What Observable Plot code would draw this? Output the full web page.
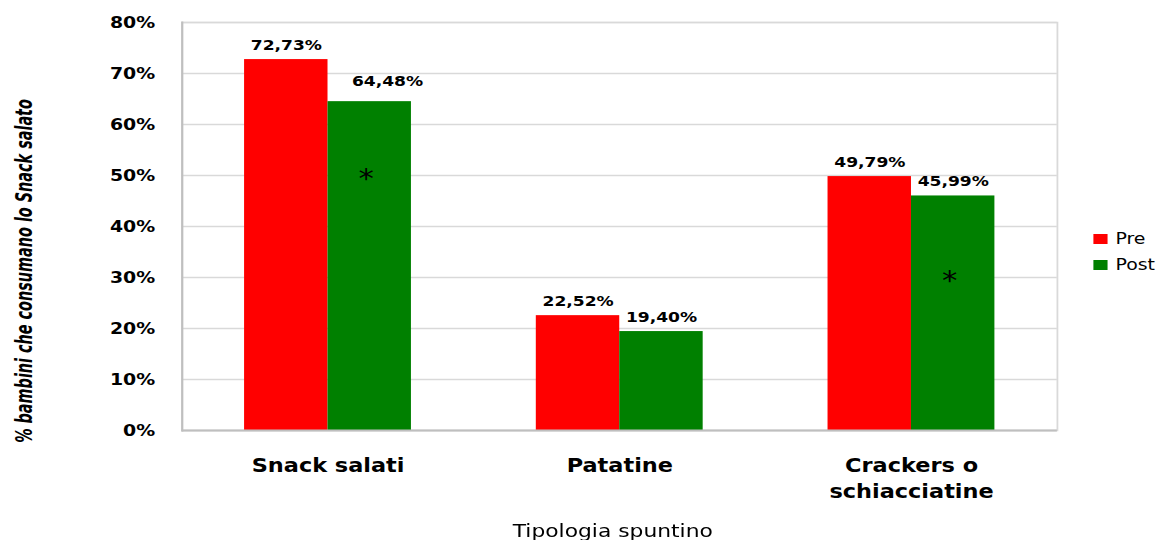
<!DOCTYPE html>
<html>
<head>
<meta charset="utf-8">
<script src="https://cdn.jsdelivr.net/npm/d3@7"></script>
<script src="https://cdn.jsdelivr.net/npm/@observablehq/plot@0.6"></script>
<style>
  html, body { margin: 0; padding: 0; background: #fff; overflow: hidden; }
  #fig {
    position: relative;
    width: 986px;
    height: 540px;
    transform: scaleX(1.1795);
    transform-origin: 0 0;
    font-family: "DejaVu Sans", sans-serif;
  }
  #fig svg { display: block; }
  #ytitle {
    position: absolute;
    left: 19.5px;
    top: 271px;
    white-space: nowrap;
    font-family: "Liberation Sans Narrow", "DejaVu Sans Condensed", sans-serif;
    font-style: italic;
    font-weight: bold;
    font-size: 20px;
    line-height: 20px;
    color: #000;
  }
  .lg-row {
    position: absolute;
    left: 926.7px;
    display: flex;
    align-items: center;
    font-size: 16px;
    line-height: 16px;
    color: #000;
  }
  .lg-sw { width: 12px; height: 10px; margin-right: 7px; }
</style>
</head>
<body>
<div id="fig"></div>
<script>
// Snack consumption before and after the intervention
const categories = ["Snack salati", "Patatine", "Crackers o schiacciatine"];
const categoryLabels = ["Snack salati", "Patatine", "Crackers o\nschiacciatine"];
const seriesNames = ["Pre", "Post"];
const seriesColors = ["#ff0000", "#008000"];
const preValues = [72.73, 22.52, 49.79];
const postValues = [64.48, 19.40, 45.99];
const yTicks = [0, 10, 20, 30, 40, 50, 60, 70, 80];
// significant Pre/Post differences, marked with an asterisk on the Post bar
const markerCategories = ["Snack salati", "Crackers o schiacciatine"];
const markerLevels = [50, 30];

const yTitle = "% bambini che consumano lo Snack salato";
const xTitle = "Tipologia spuntino";

const W = 986, H = 540;
const mL = 154, mR = 90, mT = 22, mB = 110;

const rows = categories.flatMap((c, i) => [
  {category: c, series: "Pre", value: preValues[i]},
  {category: c, series: "Post", value: postValues[i]}
]);
const markers = markerCategories.map((c, i) => ({category: c, level: markerLevels[i]}));

const xOpts = {
  type: "band",
  domain: categories,
  paddingInner: 0.428,
  paddingOuter: 0.214,
  round: false
};
// each category band holds two adjacent bars
const bw = Plot.scale({x: {...xOpts, range: [mL, W - mR]}}).bandwidth;

const fmt = v => v.toFixed(2).replace(".", ",") + "%";
const isNudged = d => d.category === "Snack salati" && d.series === "Post";
const labelStyle = {fontSize: 14.5, fontWeight: "bold", fill: "#000", lineAnchor: "bottom"};

const chart = Plot.plot({
  width: W,
  height: H,
  marginLeft: mL,
  marginRight: mR,
  marginTop: mT,
  marginBottom: mB,
  style: {fontFamily: "DejaVu Sans, sans-serif", background: "#fff", overflow: "visible"},
  x: {...xOpts, axis: null},
  y: {domain: [0, 80], axis: null},
  marks: [
    Plot.gridY(yTicks, {stroke: "#d9d9d9", strokeOpacity: 1, strokeWidth: 1.3}),
    Plot.frame({stroke: "#d9d9d9", strokeWidth: 1.5}),
    Plot.barY(rows.filter(d => d.series === "Pre"), {
      x: "category", y: "value", fill: seriesColors[0], insetRight: bw / 2
    }),
    Plot.barY(rows.filter(d => d.series === "Post"), {
      x: "category", y: "value", fill: seriesColors[1], insetLeft: bw / 2
    }),
    Plot.ruleY([0], {stroke: "#bfbfbf", strokeWidth: 2}),
    Plot.frame({anchor: "left", stroke: "#bfbfbf", strokeWidth: 1.8}),
    Plot.axisY(yTicks, {
      tickSize: 0, tickPadding: 23, tickFormat: d => d + "%",
      fontSize: 16, fontWeight: "bold", fill: "#000", label: null
    }),
    Plot.axisX({
      tickSize: 0, tickPadding: 23.5,
      tickFormat: c => categoryLabels[categories.indexOf(c)],
      fontSize: 19, fontWeight: "bold", fill: "#000", lineHeight: 1.37, label: null
    }),
    // value labels above the bars
    Plot.text(rows.filter(d => d.series === "Pre"), {
      x: "category", y: "value", text: d => fmt(d.value),
      dx: -bw / 4, dy: -10, ...labelStyle
    }),
    Plot.text(rows.filter(d => d.series === "Post" && !isNudged(d)), {
      x: "category", y: "value", text: d => fmt(d.value),
      dx: bw / 4, dy: -10, ...labelStyle
    }),
    Plot.text(rows.filter(isNudged), {
      x: "category", y: "value", text: d => fmt(d.value),
      dx: bw / 4 + 15, dy: -16, ...labelStyle
    }),
    // significance asterisks
    Plot.text(markers, {
      x: "category", y: "level", text: () => "*",
      dx: bw / 4 - 3, dy: 4, lineAnchor: "middle",
      fontSize: 26, fill: "#000"
    }),
    Plot.text([xTitle], {
      frameAnchor: "bottom", dx: -6, dy: 93, lineAnchor: "top",
      fontSize: 18.5, fill: "#000"
    })
  ]
});

const fig = document.getElementById("fig");
fig.appendChild(chart);

// rotated axis title, fitted to the height it spans beside the axis
const yt = document.createElement("div");
yt.id = "ytitle";
yt.textContent = yTitle;
fig.appendChild(yt);
const titleLen = 344;
const fit = titleLen / yt.offsetWidth;
yt.style.transform = `translate(-50%, -50%) rotate(-90deg) scaleX(${fit})`;

const legendTops = [231.3, 257];
seriesNames.forEach((name, i) => {
  const row = document.createElement("div");
  row.className = "lg-row";
  row.style.top = legendTops[i] + "px";
  const sw = document.createElement("div");
  sw.className = "lg-sw";
  sw.style.background = seriesColors[i];
  const label = document.createElement("span");
  label.textContent = name;
  row.appendChild(sw);
  row.appendChild(label);
  fig.appendChild(row);
});
</script>
</body>
</html>
